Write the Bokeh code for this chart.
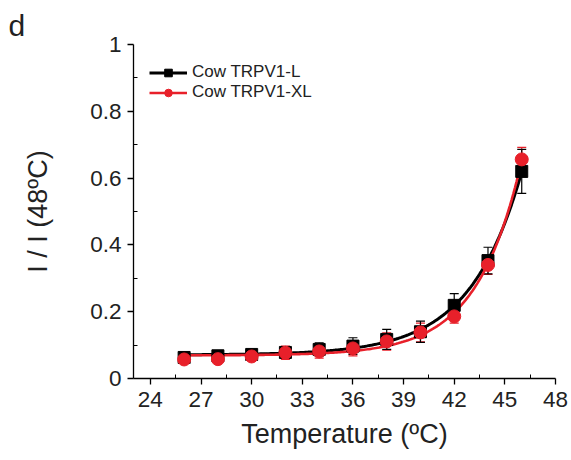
import numpy as np
from bokeh.plotting import figure
from bokeh.models import (Range1d, FixedTicker, Whisker, ColumnDataSource, Legend,
                          LegendItem, TeeHead)
from bokeh.embed import file_html
from bokeh.resources import INLINE

# ---- data ----
temperature = [26, 28, 30, 32, 34, 36, 38, 40, 42, 44, 46]
cow_l = [0.063, 0.068, 0.072, 0.078, 0.087, 0.097, 0.117, 0.140, 0.219, 0.353, 0.620]
cow_l_err = [0.010, 0.010, 0.012, 0.015, 0.020, 0.025, 0.030, 0.032, 0.035, 0.040, 0.066]
cow_xl = [0.057, 0.058, 0.066, 0.077, 0.081, 0.090, 0.111, 0.138, 0.186, 0.340, 0.656]
cow_xl_err = [0.008, 0.010, 0.010, 0.020, 0.020, 0.022, 0.026, 0.028, 0.020, 0.028, 0.036]
x_ticks = [24, 27, 30, 33, 36, 39, 42, 45, 48]
y_ticks = [0, 0.2, 0.4, 0.6, 0.8, 1]
series_names = ["Cow TRPV1-L", "Cow TRPV1-XL"]
panel_letter = "d"

FONT = "Liberation Sans"


def exp_fit(x, y):
    """Least-squares fit of y = a + b*exp(x/k) to the data points."""
    x = np.asarray(x, float)
    y = np.asarray(y, float)
    best = None
    for k in np.linspace(1.0, 8.0, 701):
        A = np.column_stack([np.ones_like(x), np.exp((x - x.max()) / k)])
        coef, *_ = np.linalg.lstsq(A, y, rcond=None)
        err = np.sum((A @ coef - y) ** 2)
        if best is None or err < best[0]:
            best = (err, k, coef)
    _, k, coef = best
    xs = np.linspace(x.min(), x.max(), 200)
    ys = coef[0] + coef[1] * np.exp((xs - x.max()) / k)
    return xs, ys


p = figure(width=571, height=460, output_backend="svg", toolbar_location=None,
           x_range=Range1d(23, 48), y_range=Range1d(0, 1),
           min_border_left=133, min_border_right=16, min_border_top=44,
           min_border_bottom=82)
p.outline_line_color = None
p.xgrid.grid_line_color = None
p.ygrid.grid_line_color = None
p.background_fill_color = "white"
p.border_fill_color = "white"

p.title.text = panel_letter
p.title.align = "left"
p.title.offset = -125
p.title.text_font = FONT
p.title.text_font_size = "30px"
p.title.text_font_style = "normal"
p.title.text_color = "#222222"
p.title.standoff = 6

for ax in (p.xaxis[0], p.yaxis[0]):
    ax.axis_line_color = "black"
    ax.axis_line_width = 1.3
    ax.major_tick_line_color = "black"
    ax.major_tick_line_width = 1.3
    ax.minor_tick_line_color = "black"
    ax.minor_tick_line_width = 1
    ax.major_tick_out = 6
    ax.major_tick_in = 0
    ax.minor_tick_out = 0
    ax.minor_tick_in = 4
    ax.major_label_text_font = FONT
    ax.major_label_text_font_size = "22.5px"
    ax.major_label_text_color = "#222222"
    ax.axis_label_text_font = FONT
    ax.axis_label_text_font_style = "normal"
    ax.axis_label_text_color = "#222222"

p.xaxis.ticker = FixedTicker(ticks=x_ticks,
                             minor_ticks=[t + 1.5 for t in x_ticks[:-1]])
p.yaxis.ticker = FixedTicker(ticks=y_ticks,
                             minor_ticks=[t + 0.1 for t in y_ticks[:-1]])
p.yaxis.major_label_overrides = {0: "0", 1: "1"}
p.xaxis.axis_label = "Temperature (ºC)"
p.yaxis.axis_label = "I / I (48ºC)"
p.xaxis.axis_label_text_font_size = "27px"
p.yaxis.axis_label_text_font_size = "27px"
p.xaxis.major_label_standoff = 7
p.yaxis.major_label_standoff = 6
p.xaxis.axis_label_standoff = 9
p.yaxis.axis_label_standoff = 34

# fit curves
xs_l, ys_l = exp_fit(temperature, cow_l)
xs_xl, ys_xl = exp_fit(temperature, cow_xl)
line_l = p.line(xs_l, ys_l, line_color="black", line_width=3)
line_xl = p.line(xs_xl, ys_xl, line_color="#e8202a", line_width=2.6)

src_l = ColumnDataSource(dict(x=temperature, y=cow_l,
                              lo=[v - e for v, e in zip(cow_l, cow_l_err)],
                              hi=[v + e for v, e in zip(cow_l, cow_l_err)]))
src_xl = ColumnDataSource(dict(x=temperature, y=cow_xl,
                               lo=[v - e for v, e in zip(cow_xl, cow_xl_err)],
                               hi=[v + e for v, e in zip(cow_xl, cow_xl_err)]))

pts_l = p.scatter("x", "y", source=src_l, marker="square", size=12,
                  fill_color="black", line_color="black")
pts_xl = p.scatter("x", "y", source=src_xl, marker="circle", size=13,
                   fill_color="#e8202a", line_color="#e8202a")

w_l = Whisker(base="x", lower="lo", upper="hi", source=src_l,
              line_color="black", line_width=1.2,
              upper_head=TeeHead(size=9, line_color="black", line_width=1.2),
              lower_head=TeeHead(size=9, line_color="black", line_width=1.2))
w_xl = Whisker(base="x", lower="lo", upper="hi", source=src_xl,
               line_color="#e8202a", line_width=1.2,
               upper_head=TeeHead(size=9, line_color="#e8202a", line_width=1.2),
               lower_head=TeeHead(size=9, line_color="#e8202a", line_width=1.2))
p.add_layout(w_xl)
p.add_layout(w_l)

legend = Legend(items=[LegendItem(label=series_names[0], renderers=[line_l, pts_l]),
                       LegendItem(label=series_names[1], renderers=[line_xl, pts_xl])],
                location=(16, 276), orientation="vertical",
                glyph_width=38, glyph_height=19, label_standoff=5, spacing=0,
                padding=0, margin=0, border_line_alpha=0, background_fill_alpha=0,
                label_text_font=FONT, label_text_font_size="17px",
                label_text_color="#222222", label_height=19)
p.add_layout(legend)

open("out.html", "w").write(file_html(p, INLINE))
